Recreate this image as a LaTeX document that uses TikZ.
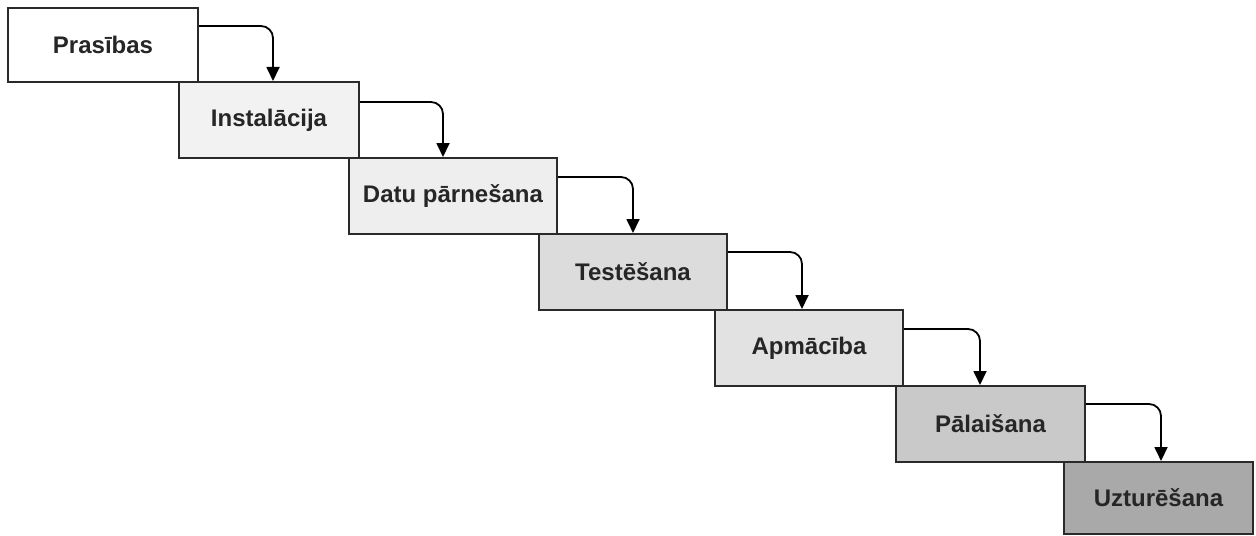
\documentclass[tikz,border=0pt]{standalone}
\usepackage{fontspec}
\setmainfont{Liberation Sans}
\usetikzlibrary{arrows.meta}
\definecolor{ink}{HTML}{262626}
\definecolor{edge}{HTML}{2A2A2A}
\definecolor{cB}{HTML}{F2F2F2}
\definecolor{cC}{HTML}{EEEEEE}
\definecolor{cD}{HTML}{DCDCDC}
\definecolor{cE}{HTML}{E2E2E2}
\definecolor{cF}{HTML}{C9C9C9}
\definecolor{cG}{HTML}{A9A9A9}
\begin{document}
\begin{tikzpicture}[x=0.5pt,y=-0.5pt,
  stage/.style={draw=edge, line width=1pt, inner sep=0pt, minimum height=38pt,
    font=\fontsize{12}{14}\selectfont\bfseries, text=ink},
  flow/.style={draw=black, line width=0.9pt, rounded corners=6pt,
    -{Triangle[length=7pt,width=6.5pt]}}]
\useasboundingbox (0,0) rectangle (1256,535);
\node[stage, fill=white, minimum width=95pt, minimum height=37pt] (b1) at (103,45) {Prasības};
\node[stage, fill=cB, minimum width=90pt] (b2) at (269,120) {Instalācija};
\node[stage, fill=cC, minimum width=104pt] (b3) at (453,196) {Datu pārnešana};
\node[stage, fill=cD, minimum width=94pt] (b4) at (633,272) {Testēšana};
\node[stage, fill=cE, minimum width=94pt] (b5) at (809,348) {Apmācība};
\node[stage, fill=cF, minimum width=94.5pt] (b6) at (990.5,424) {Pālaišana};
\node[stage, fill=cG, minimum width=94.5pt, minimum height=36pt] (b7) at (1158.5,498) {Uzturēšana};
\draw[flow] ([yshift=-9.5pt]b1.north east) -| ([xshift=2pt]b2.north);
\draw[flow] ([yshift=-10.5pt]b2.north east) -| ([xshift=-5pt]b3.north);
\draw[flow] ([yshift=-10pt]b3.north east) -| ([xshift=0pt]b4.north);
\draw[flow] ([yshift=-9.5pt]b4.north east) -| ([xshift=-3.5pt]b5.north);
\draw[flow] ([yshift=-10pt]b5.north east) -| ([xshift=-5.25pt]b6.north);
\draw[flow] ([yshift=-9.5pt]b6.north east) -| ([xshift=1.25pt]b7.north);
\end{tikzpicture}
\end{document}
